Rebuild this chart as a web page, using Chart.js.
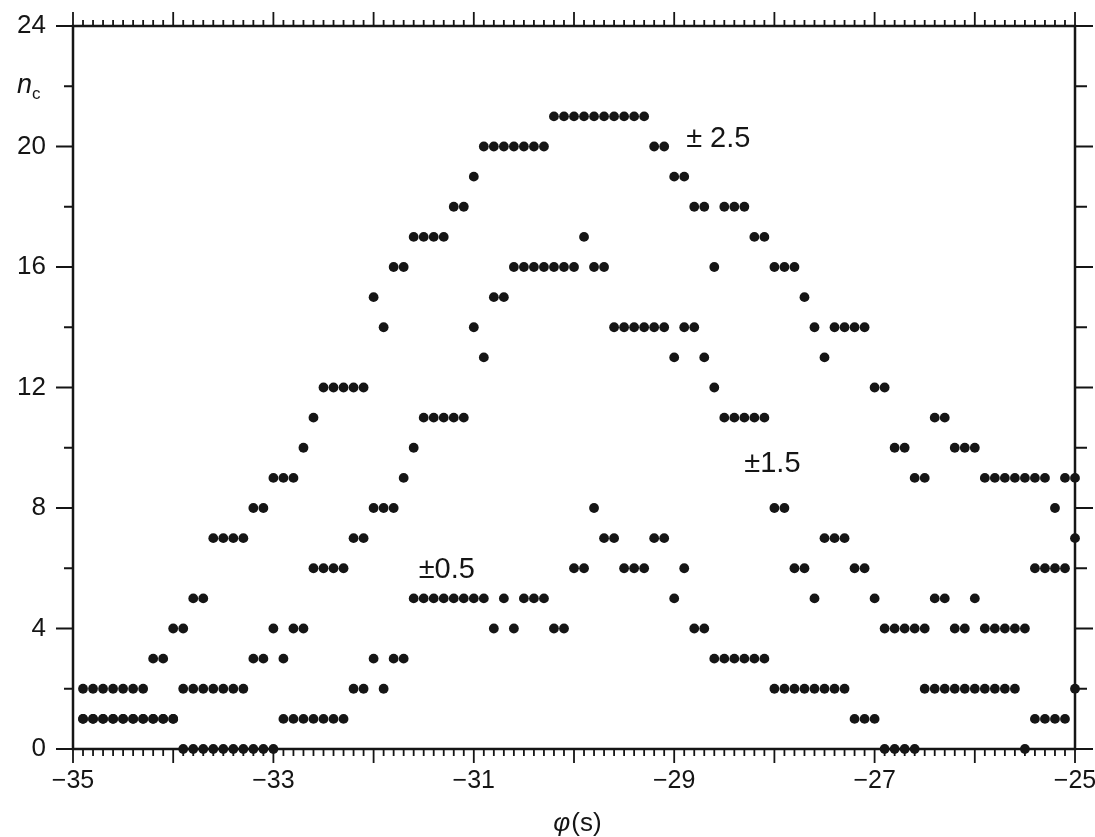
<!DOCTYPE html>
<html>
<head>
<meta charset="utf-8">
<script src="https://cdn.jsdelivr.net/npm/chart.js@4.4.1/dist/chart.umd.min.js"></script>
<style>html,body{margin:0;padding:0;background:#fff;}canvas{display:block;}</style>
</head>
<body>
<canvas id="c" width="1095" height="837"></canvas>
<script>
// phase φ (s), sampled every 0.1 s
const phi = [
 -34.9,-34.8,-34.7,-34.6,-34.5,-34.4,-34.3,-34.2,-34.1,-34.0,
 -33.9,-33.8,-33.7,-33.6,-33.5,-33.4,-33.3,-33.2,-33.1,-33.0,
 -32.9,-32.8,-32.7,-32.6,-32.5,-32.4,-32.3,-32.2,-32.1,-32.0,
 -31.9,-31.8,-31.7,-31.6,-31.5,-31.4,-31.3,-31.2,-31.1,-31.0,
 -30.9,-30.8,-30.7,-30.6,-30.5,-30.4,-30.3,-30.2,-30.1,-30.0,
 -29.9,-29.8,-29.7,-29.6,-29.5,-29.4,-29.3,-29.2,-29.1,-29.0,
 -28.9,-28.8,-28.7,-28.6,-28.5,-28.4,-28.3,-28.2,-28.1,-28.0,
 -27.9,-27.8,-27.7,-27.6,-27.5,-27.4,-27.3,-27.2,-27.1,-27.0,
 -26.9,-26.8,-26.7,-26.6,-26.5,-26.4,-26.3,-26.2,-26.1,-26.0,
 -25.9,-25.8,-25.7,-25.6,-25.5,-25.4,-25.3,-25.2,-25.1,-25.0
];
// n_c for window ±2.5
const n25 = [
 2,2,2,2,2,2,2,3,3,4,
 4,5,5,7,7,7,7,8,8,9,
 9,9,10,11,12,12,12,12,12,15,
 14,16,16,17,17,17,17,18,18,19,
 20,20,20,20,20,20,20,21,21,21,
 21,21,21,21,21,21,21,20,20,19,
 19,18,18,16,18,18,18,17,17,16,
 16,16,15,14,13,14,14,14,14,12,
 12,10,10,9,9,11,11,10,10,10,
 9,9,9,9,9,9,9,8,9,9
];
// n_c for window ±1.5
const n15 = [
 1,1,1,1,1,1,1,1,1,1,
 2,2,2,2,2,2,2,3,3,4,
 3,4,4,6,6,6,6,7,7,8,
 8,8,9,10,11,11,11,11,11,14,
 13,15,15,16,16,16,16,16,16,16,
 17,16,16,14,14,14,14,14,14,13,
 14,14,13,12,11,11,11,11,11,8,
 8,6,6,5,7,7,7,6,6,5,
 4,4,4,4,4,5,5,4,4,5,
 4,4,4,4,4,6,6,6,6,7
];
// n_c for window ±0.5
const n05 = [
 1,1,1,1,1,1,1,1,1,1,
 0,0,0,0,0,0,0,0,0,0,
 1,1,1,1,1,1,1,2,2,3,
 2,3,3,5,5,5,5,5,5,5,
 5,4,5,4,5,5,5,4,4,6,
 6,8,7,7,6,6,6,7,7,5,
 6,4,4,3,3,3,3,3,3,2,
 2,2,2,2,2,2,2,1,1,1,
 0,0,0,0,2,2,2,2,2,2,
 2,2,2,2,0,1,1,1,1,2
];
const xTickLabels = ['\u221235','\u221233','\u221231','\u221229','\u221227','\u221225'];
const yTickLabels = ['0','4','8','12','16','20','24'];
const seriesNames = ['\u00b1 2.5','\u00b11.5','\u00b10.5'];

const INK = '#151515';
const FONT = 'Liberation Sans';

function pts(vals){ return phi.map((x,i)=>({x:x,y:vals[i]})); }

const deco = {
  id:'deco',
  beforeDatasetsDraw(chart){
    const {ctx, chartArea:a, scales:{x,y}} = chart;
    ctx.save();
    ctx.strokeStyle = INK;
    ctx.lineCap = 'butt';
    ctx.lineWidth = 1.8;
    // x ticks (bottom & top, outward), minor every 0.1, major every 1
    for (let i=0;i<=100;i++){
      const px = x.getPixelForValue(-35 + i/10);
      const major = (i%10===0);
      const lb = major ? 14 : 7;
      const lt = major ? 14 : 6;
      ctx.beginPath();
      ctx.moveTo(px, a.bottom); ctx.lineTo(px, a.bottom+lb);
      ctx.moveTo(px, a.top); ctx.lineTo(px, a.top-lt);
      ctx.stroke();
    }
    // y ticks every 2 (left & right, outward)
    ctx.lineWidth = 2;
    for (let v=0; v<=24; v+=2){
      const py = y.getPixelForValue(v);
      const major = (v%4===0);
      ctx.beginPath();
      ctx.moveTo(a.left, py); ctx.lineTo(a.left-(major?17:9), py);
      ctx.moveTo(a.right, py); ctx.lineTo(a.right+(major?18:12), py);
      ctx.stroke();
    }
    // frame
    ctx.lineWidth = 2.5;
    ctx.strokeRect(a.left, a.top, a.right-a.left, a.bottom-a.top);
    ctx.restore();
  },
  afterDatasetsDraw(chart, args, opts){
    const {ctx, chartArea:a, scales:{x,y}} = chart;
    ctx.save();
    ctx.fillStyle = INK;
    ctx.textAlign = 'center';
    ctx.textBaseline = 'middle';
    ctx.font = '29px "'+FONT+'"';
    opts.labels.forEach((p,i)=>{
      ctx.fillText(seriesNames[i], x.getPixelForValue(p[0]), y.getPixelForValue(p[1]));
    });
    // y axis title n_c
    ctx.textAlign = 'left';
    ctx.textBaseline = 'alphabetic';
    ctx.font = 'italic 27px "'+FONT+'"';
    ctx.fillText('n', 17, 93);
    ctx.font = '17px "'+FONT+'"';
    ctx.fillText('c', 32, 99);
    // x axis title φ(s)
    const cx = (a.left + a.right)/2 + 3;
    ctx.font = 'italic 26px "'+FONT+'"';
    const w1 = ctx.measureText('\u03c6').width;
    ctx.font = '26px "'+FONT+'"';
    const w2 = ctx.measureText('(s)').width;
    const sx = cx - (w1+w2)/2;
    ctx.font = 'italic 26px "'+FONT+'"';
    ctx.fillText('\u03c6', sx, 831);
    ctx.font = '26px "'+FONT+'"';
    ctx.fillText('(s)', sx + w1 + 1, 831);
    ctx.restore();
  }
};

const dsStyle = {
  showLine:false, pointRadius:4.9, pointHoverRadius:4.9,
  pointBackgroundColor:INK, pointBorderWidth:0, pointBorderColor:INK,
  clip:false
};

new Chart(document.getElementById('c'), {
  type:'scatter',
  data:{
    datasets:[
      Object.assign({label:seriesNames[0], data:pts(n25)}, dsStyle),
      Object.assign({label:seriesNames[1], data:pts(n15)}, dsStyle),
      Object.assign({label:seriesNames[2], data:pts(n05)}, dsStyle)
    ]
  },
  options:{
    responsive:false,
    animation:false,
    events:[],
    devicePixelRatio:1,
    layout:{padding:{top:26, right:20, left:0, bottom:0}},
    plugins:{
      legend:{display:false},
      tooltip:{enabled:false},
      deco:{labels:[[-28.56,20.25],[-28.02,9.45],[-31.27,5.95]]}
    },
    scales:{
      x:{
        type:'linear', min:-35, max:-25,
        grid:{display:false, drawTicks:false},
        border:{display:false},
        ticks:{stepSize:2, autoSkip:false, maxRotation:0, padding:17, color:INK,
               font:{family:FONT, size:25},
               callback:(v,i)=>xTickLabels[i]},
        afterFit(s){ s.height = 88; s.paddingLeft = 0; s.paddingRight = 0; }
      },
      y:{
        type:'linear', min:0, max:24,
        grid:{display:false, drawTicks:false},
        border:{display:false},
        ticks:{stepSize:4, autoSkip:false, padding:27, color:INK,
               font:{family:FONT, size:26},
               callback:(v,i)=>yTickLabels[i]},
        afterFit(s){ s.width = 73; s.paddingTop = 0; s.paddingBottom = 0; }
      }
    }
  },
  plugins:[deco]
});
</script>
</body>
</html>
